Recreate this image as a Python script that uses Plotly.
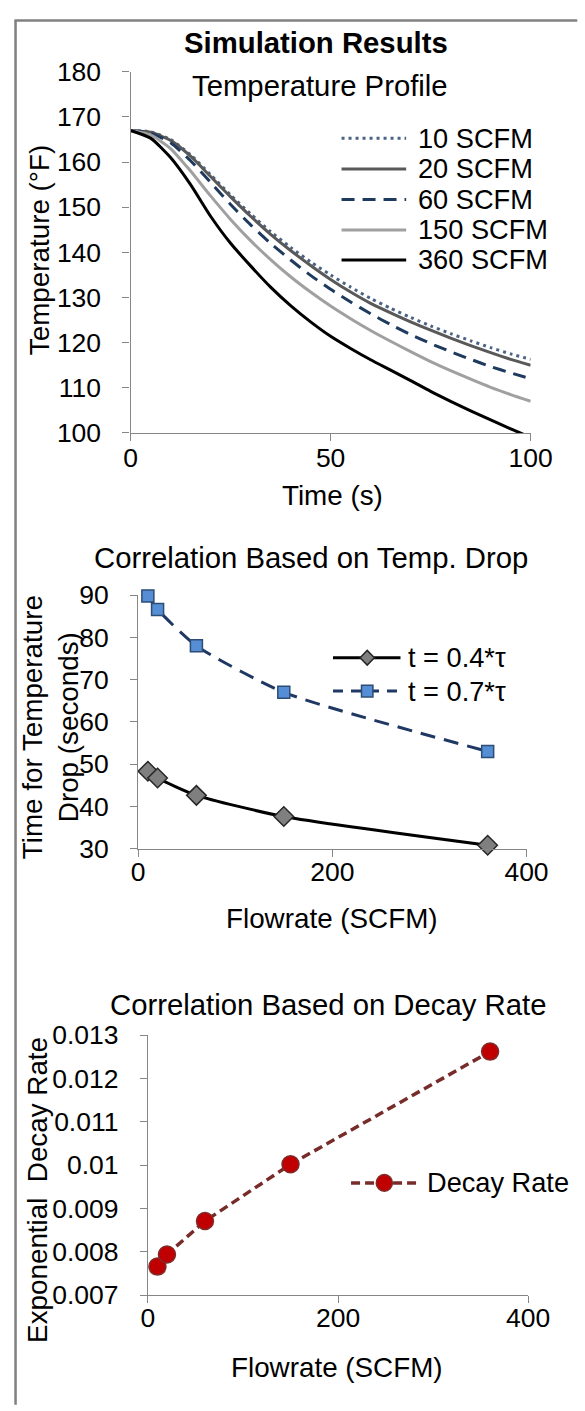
import plotly.graph_objects as go

# ---------------- data ----------------
time_s = [0, 5, 10, 15, 20, 25, 30, 35, 40, 45, 50, 55, 60, 65, 70, 75, 80, 85, 90, 95, 100]
temp_10 = [167, 166.7, 165.0, 161.6, 157.2, 152.7, 148.5, 144.6, 141.1, 137.9, 135.0, 132.3, 129.8, 127.6, 125.6, 123.7, 122.0, 120.4, 118.9, 117.5, 116.3]
temp_20 = [167, 166.6, 164.8, 161.3, 156.8, 152.3, 148.0, 144.0, 140.4, 137.1, 134.0, 131.2, 128.7, 126.6, 124.6, 122.75, 121.0, 119.35, 117.8, 116.3, 115.0]
temp_60 = [167, 166.4, 164.3, 160.3, 155.5, 150.6, 146.1, 142.0, 138.3, 134.9, 131.8, 129.0, 126.4, 124.0, 121.8, 119.8, 118.0, 116.3, 114.7, 113.3, 112.0]
temp_150 = [167, 166.0, 163.0, 158.0, 152.5, 147.3, 142.6, 138.4, 134.6, 131.2, 128.1, 125.3, 122.7, 120.3, 118.0, 115.8, 113.8, 111.9, 110.1, 108.5, 107.0]
temp_360 = [167, 165.3, 161.0, 155.0, 148.0, 142.0, 137.0, 132.3, 128.2, 124.6, 121.4, 118.7, 116.2, 113.9, 111.6, 109.2, 107.0, 104.9, 102.9, 100.9, 99.0]
series_names = ["10 SCFM", "20 SCFM", "60 SCFM", "150 SCFM", "360 SCFM"]

flowrate = [10, 20, 60, 150, 360]
t_04tau = [48.3, 46.7, 42.6, 37.6, 30.8]
t_07tau = [89.8, 86.6, 78.0, 67.0, 53.0]
decay_rate = [0.00766, 0.00794, 0.00871, 0.01002, 0.01262]

temp_ticks = [100, 110, 120, 130, 140, 150, 160, 170, 180]
time_ticks = [0, 50, 100]
drop_ticks = [30, 40, 50, 60, 70, 80, 90]
flow_ticks = [0, 200, 400]
decay_ticks = [0.007, 0.008, 0.009, 0.010, 0.011, 0.012, 0.013]
decay_ticktext = ["0.007", "0.008", "0.009", "0.01", "0.011", "0.012", "0.013"]

# ---------------- layout helpers ----------------
W, H = 585, 1411
FONT = "Liberation Sans, Arial, sans-serif"
TITLE_SIZE = 29.3
AXT_SIZE = 27.8
LEG_SIZE = 27.2
TICK_SIZE = 26.5


def px(x):
    return x / W


def py(y):
    return 1 - y / H


fig = go.Figure()

styles = [
    dict(color="#4A6384", width=3, dash="3px,4px"),
    dict(color="#595959", width=3),
    dict(color="#1F3A5F", width=3, dash="13px,8px"),
    dict(color="#A0A0A0", width=3),
    dict(color="#000000", width=3),
]
for name, vals, st in zip(series_names, [temp_10, temp_20, temp_60, temp_150, temp_360], styles):
    fig.add_trace(go.Scatter(x=time_s, y=vals, mode="lines", name=name,
                             line=dict(shape="spline", smoothing=0.6, **st),
                             xaxis="x", yaxis="y", showlegend=False))

fig.add_trace(go.Scatter(x=flowrate, y=t_07tau, mode="lines+markers", name="t = 0.7*τ",
                         line=dict(color="#1F3864", width=3, dash="15px,9px", shape="spline", smoothing=0.6),
                         marker=dict(symbol="square", size=12, color="#558ED5", line=dict(color="#2C4D75", width=1.5)),
                         cliponaxis=False, xaxis="x2", yaxis="y2", showlegend=False))
fig.add_trace(go.Scatter(x=flowrate, y=t_04tau, mode="lines+markers", name="t = 0.4*τ",
                         line=dict(color="#000000", width=3, shape="spline", smoothing=0.6),
                         marker=dict(symbol="diamond", size=15, color="#7F7F7F", line=dict(color="#262626", width=1.5)),
                         cliponaxis=False, xaxis="x2", yaxis="y2", showlegend=False))
fig.add_trace(go.Scatter(x=flowrate, y=decay_rate, mode="lines+markers", name="Decay Rate",
                         line=dict(color="#772C2A", width=3.5, dash="9px,5px"),
                         marker=dict(symbol="circle", size=17, color="#C00000", line=dict(color="#7F2B2B", width=1.5)),
                         cliponaxis=False, xaxis="x3", yaxis="y3", showlegend=False))

axis_common = dict(showline=True, linecolor="#868686", linewidth=1.3, ticks="outside", ticklen=7,
                   tickcolor="#868686", tickwidth=1.3, showgrid=False, zeroline=False,
                   tickfont=dict(family=FONT, size=TICK_SIZE, color="#000000"))

fig.update_layout(
    width=W, height=H, margin=dict(l=0, r=0, t=0, b=0),
    paper_bgcolor="white", plot_bgcolor="white", showlegend=False,
    xaxis=dict(domain=[px(130), px(551)], range=[0, 100], tickvals=time_ticks, anchor="y",
               ticklabelstandoff=-6, **axis_common),
    yaxis=dict(domain=[py(427), py(58)], range=[100, 180], tickvals=temp_ticks, anchor="x",
               ticklabelstandoff=16, **axis_common),
    xaxis2=dict(domain=[px(138), px(546.6)], range=[0, 400], tickvals=flow_ticks, anchor="y2",
                ticklabelstandoff=-8, **axis_common),
    yaxis2=dict(domain=[py(851.7), py(592.7)], range=[30, 90], tickvals=drop_ticks, anchor="x2",
                ticklabelstandoff=16, **axis_common),
    xaxis3=dict(domain=[px(148.3), px(548.3)], range=[0, 400], tickvals=flow_ticks, anchor="y3",
                ticklabelstandoff=-8, **axis_common),
    yaxis3=dict(domain=[py(1308), py(1042.3)], range=[0.007, 0.013], tickvals=decay_ticks,
                ticktext=decay_ticktext, anchor="x3", ticklabelstandoff=16, **axis_common),
)

annotations = []


def add_text(text, x, y, size, angle=0, xanchor="center", bold=False):
    annotations.append(dict(text=("<b>%s</b>" % text) if bold else text, x=px(x), y=py(y),
                            xref="paper", yref="paper", showarrow=False, xanchor=xanchor,
                            yanchor="middle", textangle=angle,
                            font=dict(family=FONT, size=size, color="#000000")))


add_text("Simulation Results", 325, 28, TITLE_SIZE, bold=True)
add_text("Temperature Profile", 329, 72, TITLE_SIZE)
add_text("Temperature (°F)", 35, 240, AXT_SIZE, angle=-90)
add_text("Time (s)", 342, 491, AXT_SIZE)

add_text("Correlation Based on Temp. Drop", 320, 554, TITLE_SIZE)
add_text("Time for Temperature<br>Drop (seconds)", 46, 728, AXT_SIZE, angle=-90)
add_text("Flowrate (SCFM)", 341.5, 923, AXT_SIZE)

add_text("Correlation Based on Decay Rate", 337.5, 1011, TITLE_SIZE)
add_text("Exponential\u00a0 Decay Rate", 32, 1200, AXT_SIZE, angle=-90)
add_text("Flowrate (SCFM)", 347, 1382, AXT_SIZE)

shapes = []


def hline(x0, x1, y, **line):
    shapes.append(dict(type="line", xref="paper", yref="paper", x0=px(x0), x1=px(x1),
                       y0=py(y), y1=py(y), line=line))


# legend panel 1
leg1_y = [126, 157.3, 188.6, 219.6, 250.3]
for name, st, yy in zip(series_names, styles, leg1_y):
    hline(352, 420, yy, **st)
    add_text(name, 430, yy, LEG_SIZE, xanchor="left")

# legend panel 2
hline(343, 414, 656.7, color="#000000", width=3)
cx, cy, r = 379, 656.7, 7.5
shapes.append(dict(type="path", xref="paper", yref="paper",
                   path="M %f,%f L %f,%f L %f,%f L %f,%f Z" % (px(cx - r), py(cy), px(cx), py(cy - r),
                                                             px(cx + r), py(cy), px(cx), py(cy + r)),
                   fillcolor="#7F7F7F", line=dict(color="#262626", width=1.5)))
add_text("t = 0.4*τ", 420, 656.7, LEG_SIZE, xanchor="left")
hline(343, 414, 690.7, color="#1F3864", width=3, dash="10px,8px")
s = 6
shapes.append(dict(type="rect", xref="paper", yref="paper", x0=px(379 - s), x1=px(379 + s),
                   y0=py(690.7 + s), y1=py(690.7 - s),
                   fillcolor="#558ED5", line=dict(color="#2C4D75", width=1.5)))
add_text("t = 0.7*τ", 420, 690.7, LEG_SIZE, xanchor="left")

# legend panel 3
hline(362, 433, 1193.3, color="#772C2A", width=3.5, dash="9px,5px")
rr = 8.5
shapes.append(dict(type="circle", xref="paper", yref="paper", x0=px(397 - rr), x1=px(397 + rr),
                   y0=py(1193.3 + rr), y1=py(1193.3 - rr),
                   fillcolor="#C00000", line=dict(color="#7F2B2B", width=1.5)))
add_text("Decay Rate", 440, 1193.3, LEG_SIZE, xanchor="left")

# outer border (left & top visible)
shapes.append(dict(type="line", xref="paper", yref="paper", x0=px(9), x1=px(9), y0=py(5.5), y1=py(1420),
                   line=dict(color="#808080", width=2.5)))
shapes.append(dict(type="line", xref="paper", yref="paper", x0=px(7.8), x1=px(600), y0=py(5.5), y1=py(5.5),
                   line=dict(color="#808080", width=2.5)))

fig.update_layout(annotations=annotations, shapes=shapes)

fig.write_html(
    "out.html",
    config={"displayModeBar": False},
    post_script="document.body.style.margin='0';document.body.style.padding='0';"
                "document.body.style.overflow='hidden';document.documentElement.style.overflow='hidden';",
)
